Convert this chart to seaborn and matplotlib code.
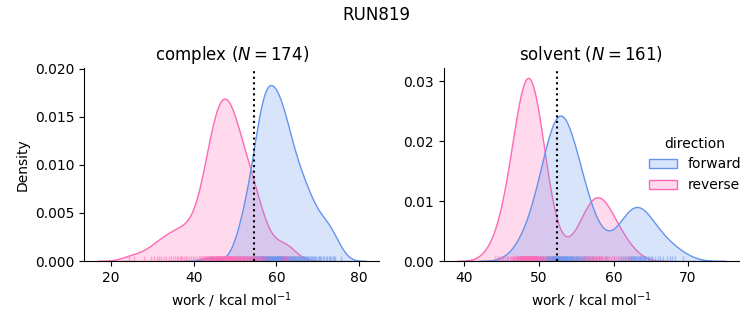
import numpy as np
import pandas as pd
import matplotlib
matplotlib.use("Agg")
import matplotlib.pyplot as plt
import matplotlib.transforms as mt
import seaborn as sns

# Non-equilibrium work values (kcal/mol) for RUN819
complex_forward = np.array([436,505,510,513,516,519,521,523,526,528,530,533,535,537,539,541,543,544,546,547,549,550,551,552,553,554,555,556,557,558,559,560,561,562,562,563,564,565,566,566,566,567,568,568,569,570,571,572,572,573,574,575,575,576,577,578,578,579,580,581,581,581,582,583,584,585,586,586,587,588,589,590,591,592,592,593,594,595,595,596,597,598,598,599,600,601,602,603,604,605,605,606,607,608,609,610,610,611,611,612,613,614,615,616,617,618,619,619,620,621,622,623,624,625,626,627,628,629,630,631,632,633,635,636,637,638,640,641,642,644,645,646,648,649,651,652,654,656,657,659,660,662,664,665,667,668,670,672,673,675,677,679,681,683,686,688,691,694,697,700,703,706,709,713,716,719,722,727,730,733,736,740,743,756]) / 10
complex_reverse = np.array([244,257,280,297,305,311,317,322,328,334,340,345,350,355,359,362,366,370,373,377,381,385,390,394,399,404,408,412,415,418,420,422,424,426,428,429,431,432,433,434,436,437,438,439,440,441,442,443,444,445,446,447,447,448,449,450,451,452,453,453,454,455,456,457,458,458,459,460,461,462,462,463,464,465,466,466,467,468,469,469,470,471,472,472,473,474,475,476,476,477,478,479,479,480,481,482,482,483,484,485,485,486,487,488,488,489,490,491,492,492,493,494,495,496,497,498,498,499,500,501,502,503,504,505,506,507,509,510,511,512,513,515,516,517,519,520,521,523,524,526,527,529,530,532,533,535,536,538,539,540,542,543,545,546,548,549,551,553,554,556,558,560,563,566,570,576,588,606,613,618,621,624,627,632]) / 10
solvent_forward = np.array([477,480,481,483,485,487,489,491,493,496,498,500,502,504,505,506,508,509,509,510,511,512,512,513,514,514,515,515,516,516,517,517,518,518,519,519,519,520,520,521,521,521,522,522,523,523,523,524,524,525,525,525,526,526,527,527,527,528,528,529,529,529,530,530,530,531,531,532,532,533,533,534,534,535,535,536,536,537,538,538,539,539,540,541,541,542,543,543,544,545,546,546,547,548,549,549,550,551,552,553,554,555,556,557,558,559,560,561,562,563,565,566,567,569,571,573,577,581,590,601,607,610,613,615,616,618,619,621,622,623,624,625,626,627,628,629,630,631,633,634,635,636,637,638,639,641,642,644,646,648,650,652,655,659,663,667,672,676,679,682,693]) / 10
solvent_reverse = np.array([441,444,446,448,450,452,455,457,459,461,463,464,465,466,467,468,469,470,470,471,471,472,472,473,473,474,474,475,475,476,476,476,477,477,477,478,478,479,479,479,480,480,480,481,481,481,481,482,482,482,483,483,483,484,484,484,485,485,485,485,486,486,486,487,487,487,488,488,488,488,489,489,489,490,490,490,491,491,491,492,492,492,493,493,493,494,494,495,495,495,496,496,496,497,497,498,498,499,499,500,500,501,501,502,503,503,504,505,506,507,508,509,511,513,518,530,545,551,554,557,559,560,562,564,565,566,568,569,570,571,572,573,574,575,576,577,578,579,580,581,582,583,584,585,586,588,589,590,591,593,594,596,598,600,603,606,610,613,616,619,623]) / 10

# Free energy estimates (kcal/mol)
complex_delta_f = 54.6
solvent_delta_f = 52.4

phases = ["complex", "solvent"]
works = {
    "complex": {"forward": complex_forward, "reverse": complex_reverse},
    "solvent": {"forward": solvent_forward, "reverse": solvent_reverse},
}
delta_f = {"complex": complex_delta_f, "solvent": solvent_delta_f}
colors = {"forward": "cornflowerblue", "reverse": "hotpink"}
y_top = {"complex": 0.0201, "solvent": 0.0322}

n_total = sum(len(w) for ph in phases for w in works[ph].values())

fig, axes = plt.subplots(1, 2, figsize=(7.53, 3.25), dpi=100)
fig.subplots_adjust(left=0.1116, right=0.9814, top=0.7908, bottom=0.1969, wspace=0.217)

for i, (ax, phase) in enumerate(zip(axes, phases)):
    data = pd.concat(
        [pd.DataFrame({"work": w, "direction": d}) for d, w in works[phase].items()],
        ignore_index=True,
    )
    # densities are normalised over the works of both phases together
    share = len(data) / n_total
    scaled = mt.Affine2D().scale(1.0, share) + ax.transData
    sns.kdeplot(data=data, x="work", hue="direction", palette=colors, fill=True,
                ax=ax, legend=(i == 1), transform=scaled)
    sns.rugplot(data=data, x="work", hue="direction", palette=colors, alpha=0.5,
                ax=ax, legend=False)
    ax.axvline(delta_f[phase], color="black", linestyle=":", linewidth=1.5)
    ax.set_ylim(0, y_top[phase])
    ax.set_title(f"{phase} ($N={len(works[phase]['forward'])}$)")
    ax.set_xlabel(r"work / kcal mol$^{-1}$")
    ax.set_ylabel("Density" if i == 0 else "")

sns.move_legend(axes[1], "center right", bbox_to_anchor=(1.05, 0.5), frameon=False)
sns.despine(fig)
fig.suptitle("RUN819")
fig.savefig("out.png")
